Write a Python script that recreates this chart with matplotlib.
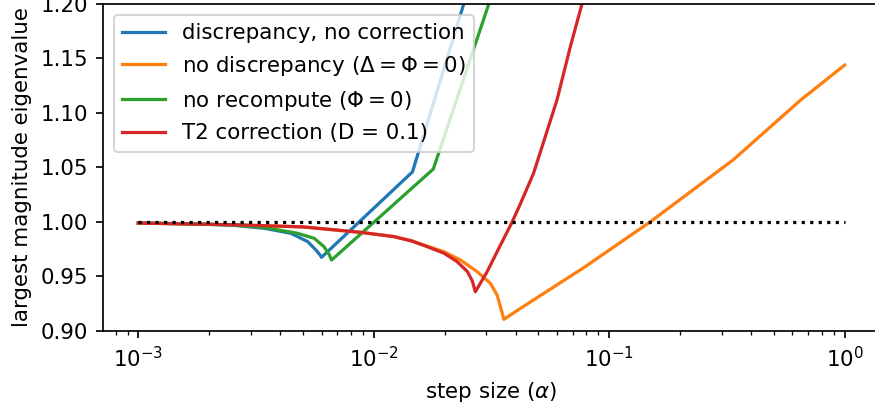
import numpy as np
import matplotlib
matplotlib.use("Agg")
import matplotlib.pyplot as plt

# step sizes / eigenvalues
blue_x = [1e-3, 1.5e-3, 2.48e-3, 3.43e-3, 4.45e-3, 5.24e-3, 5.68e-3, 5.9e-3, 6.0e-3, 0.0146, 0.0241]
blue_y = [0.999, 0.9985, 0.9972, 0.9942, 0.9896, 0.982, 0.9743, 0.970, 0.9676, 1.046, 1.20]

orange_x = [1e-3, 2.5e-3, 5e-3, 8.81e-3, 0.0122, 0.0145, 0.0169, 0.0199, 0.0234, 0.0275, 0.0313, 0.0334,
            0.0345, 0.0357, 0.042, 0.0778, 0.149, 0.336, 0.651, 1.0]
orange_y = [0.999, 0.9975, 0.9955, 0.9905, 0.9867, 0.9828, 0.9778, 0.9727, 0.965, 0.9544, 0.9437, 0.933,
            0.9223, 0.9107, 0.9208, 0.958, 1.0, 1.057, 1.112, 1.144]

green_x = [1e-3, 1.5e-3, 2.48e-3, 3.43e-3, 4.75e-3, 5.59e-3, 6.15e-3, 6.47e-3, 6.62e-3, 0.0179, 0.0308]
green_y = [0.999, 0.9985, 0.9973, 0.995, 0.9896, 0.985, 0.9773, 0.970, 0.9651, 1.0486, 1.20]

red_x = [1e-3, 2.5e-3, 5e-3, 8.81e-3, 0.0122, 0.0145, 0.0169, 0.0199, 0.0226, 0.0250, 0.0262, 0.0270,
         0.0303, 0.0340, 0.0387, 0.042, 0.0477, 0.060, 0.0684, 0.0766]
red_y = [0.999, 0.9975, 0.9955, 0.9905, 0.9865, 0.9825, 0.9773, 0.9713, 0.9636, 0.9544, 0.946, 0.936,
         0.9544, 0.976, 1.0, 1.017, 1.0446, 1.112, 1.161, 1.20]

ref_x = [1e-3, 1.0]
ref_y = [1.0, 1.0]

labels = ['discrepancy, no correction',
          r'no discrepancy ($\Delta = \Phi = 0$)',
          r'no recompute ($\Phi = 0$)',
          'T2 correction (D = 0.1)']

dpi = 154
fig = plt.figure(figsize=(875/dpi, 406/dpi), dpi=dpi)
ax = fig.add_axes([103/875, 75/406, 777/875, 327/406])

ax.plot(blue_x, blue_y, label=labels[0])
ax.plot(orange_x, orange_y, label=labels[1])
ax.plot(green_x, green_y, label=labels[2])
ax.plot(red_x, red_y, label=labels[3])
ax.plot(ref_x, ref_y, color='black', linestyle=':', linewidth=1.5)

ax.set_xscale('log')
ax.set_ylim(0.90, 1.20)
ax.set_yticks([0.90, 0.95, 1.00, 1.05, 1.10, 1.15, 1.20])
ax.set_xlabel(r'step size ($\alpha$)')
ax.set_ylabel('largest magnitude eigenvalue')
ax.legend(loc='upper left')

fig.savefig('out.png', dpi=dpi)
